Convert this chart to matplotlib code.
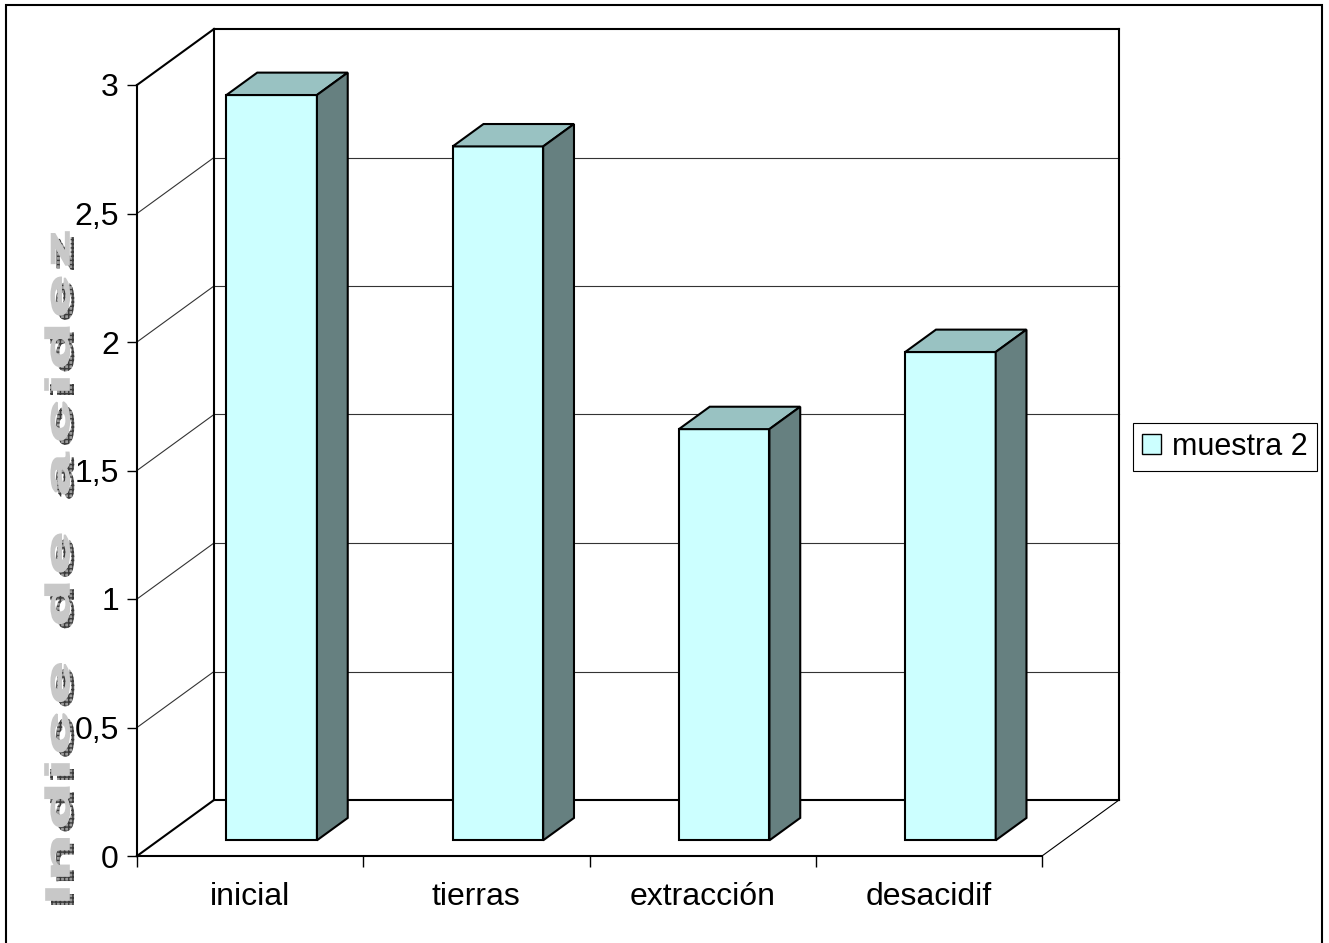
import matplotlib
matplotlib.use("Agg")
import matplotlib.pyplot as plt
from matplotlib.patches import Polygon, Rectangle, Patch, PathPatch
from matplotlib.textpath import TextPath
from matplotlib.font_manager import FontProperties
from matplotlib.transforms import Affine2D
from matplotlib.ticker import FuncFormatter

plt.rcParams['font.family'] = ['Liberation Sans', 'DejaVu Sans']

categories = ["inicial", "tierras", "extracción", "desacidif"]
acidity = [2.9, 2.7, 1.6, 1.9]
series_name = "muestra 2"
y_ticks = [0, 0.5, 1, 1.5, 2, 2.5, 3]
y_label = "Indice de acidez"

FRONT = "#CCFFFF"
TOP = "#99C2C2"
SIDE = "#668080"

W, H = 1329, 943
fig = plt.figure(figsize=(W / 100, H / 100), dpi=100)
ax = fig.add_axes([137 / W, 1 - 856 / H, 905 / W, 771 / H])
ax.set_xlim(0, len(categories))
ax.set_ylim(0, 3)
ax.patch.set_visible(False)

# oblique depth of the walls, in data units
DX = 77 / 905 * len(categories)
DY = 56 / 771 * 3


def proj(x, y, d):
    return (x + DX * d, y + DY * d)


def edge(p, q, lw=1.5, color="black", z=2):
    (x0, y0), (x1, y1) = proj(*p), proj(*q)
    ax.plot([x0, x1], [y0, y1], color=color, lw=lw, clip_on=False,
            solid_capstyle="projecting", zorder=z)


n = len(categories)
# gridlines on back and side walls
for v in y_ticks[1:-1]:
    edge((0, v, 1), (n, v, 1), lw=0.8, color="#333333", z=1)
    edge((0, v, 0), (0, v, 1), lw=0.8, color="#333333", z=1)

# wall and floor frame
edge((0, 0, 1), (0, 3, 1))
edge((0, 3, 1), (n, 3, 1))
edge((n, 3, 1), (n, 0, 1))
edge((0, 0, 1), (n, 0, 1))
edge((0, 3, 0), (0, 3, 1))
edge((0, 0, 0), (0, 0, 1))
edge((n, 0, 0), (n, 0, 1), lw=0.8)

# 3d bars
d0, d1 = 0.28, 0.68
for i, v in enumerate(acidity):
    x0, x1 = i + 0.3, i + 0.7
    faces = [
        ([(x0, 0, d0), (x1, 0, d0), (x1, v, d0), (x0, v, d0)], FRONT),
        ([(x0, v, d0), (x1, v, d0), (x1, v, d1), (x0, v, d1)], TOP),
        ([(x1, 0, d0), (x1, 0, d1), (x1, v, d1), (x1, v, d0)], SIDE),
    ]
    for pts, col in faces:
        ax.add_patch(Polygon([proj(*p) for p in pts], closed=True, facecolor=col,
                             edgecolor="black", lw=1.5, joinstyle="miter",
                             clip_on=False, zorder=3 + i))

# axes
for s in ["top", "right"]:
    ax.spines[s].set_visible(False)
for s in ["left", "bottom"]:
    ax.spines[s].set_linewidth(1.5)
ax.set_yticks(y_ticks)
ax.yaxis.set_major_formatter(FuncFormatter(lambda v, _: f"{v:g}".replace(".", ",")))
ax.tick_params(axis="y", direction="out", length=7, width=1, pad=6, labelsize=23)
ax.set_xticks(range(n + 1))
ax.set_xticklabels([])
ax.set_xticks([i + 0.5 for i in range(n)], minor=True)
ax.set_xticklabels(categories, minor=True, fontsize=23)
ax.tick_params(axis="x", which="major", direction="out", length=8, width=1)
ax.tick_params(axis="x", which="minor", length=0, pad=19)

# legend
leg = fig.legend(handles=[Patch(facecolor=FRONT, edgecolor="black", lw=1, label=series_name)],
                 loc="center left", bbox_to_anchor=(1133 / W, 1 - 447 / H),
                 fontsize=22, frameon=True, fancybox=False, edgecolor="black",
                 framealpha=1, handlelength=0.62, handleheight=0.62,
                 handletextpad=0.35, borderpad=0.3, borderaxespad=0)
leg.get_frame().set_linewidth(0.8)

# stretched, shadowed axis title built letter by letter
fp = FontProperties(family="Liberation Sans", weight="bold")
size, stretch = 33, 2.35
glyphs = []
for c in y_label:
    if c == " ":
        glyphs.append((None, 0.2 * size * stretch))
    else:
        p = TextPath((0, 0), c, size=size, prop=fp)
        ext = p.get_extents()
        glyphs.append((p, ext.x0, ext.width * stretch))
widths = [g[-1] for g in glyphs]
gap = (668 - sum(widths)) / (len(glyphs) - 1)
cursor = H - 900
base_x = 69
for g in glyphs:
    if g[0] is not None:
        p, x0, w = g
        tr = (Affine2D().translate(-x0, 0).scale(stretch, 1).rotate_deg(90)
              .translate(base_x, cursor))
        shadow = PathPatch(p, transform=tr + Affine2D().translate(5, -5),
                           facecolor="#9a9a9a", edgecolor="#3a3a3a", hatch="++++",
                           lw=0, zorder=0)
        front = PathPatch(p, transform=tr, facecolor="#c8c8c8", edgecolor="#c8c8c8",
                          lw=1.2, zorder=0)
        fig.add_artist(shadow)
        fig.add_artist(front)
    cursor += g[-1] + gap

# outer chart border
fig.add_artist(Rectangle((5.5 / W, -0.02), 1316 / W, 1.02 - 4.5 / H,
                         transform=fig.transFigure, fill=False, lw=1.5, ec="black"))

fig.savefig("out.png", dpi=100)
